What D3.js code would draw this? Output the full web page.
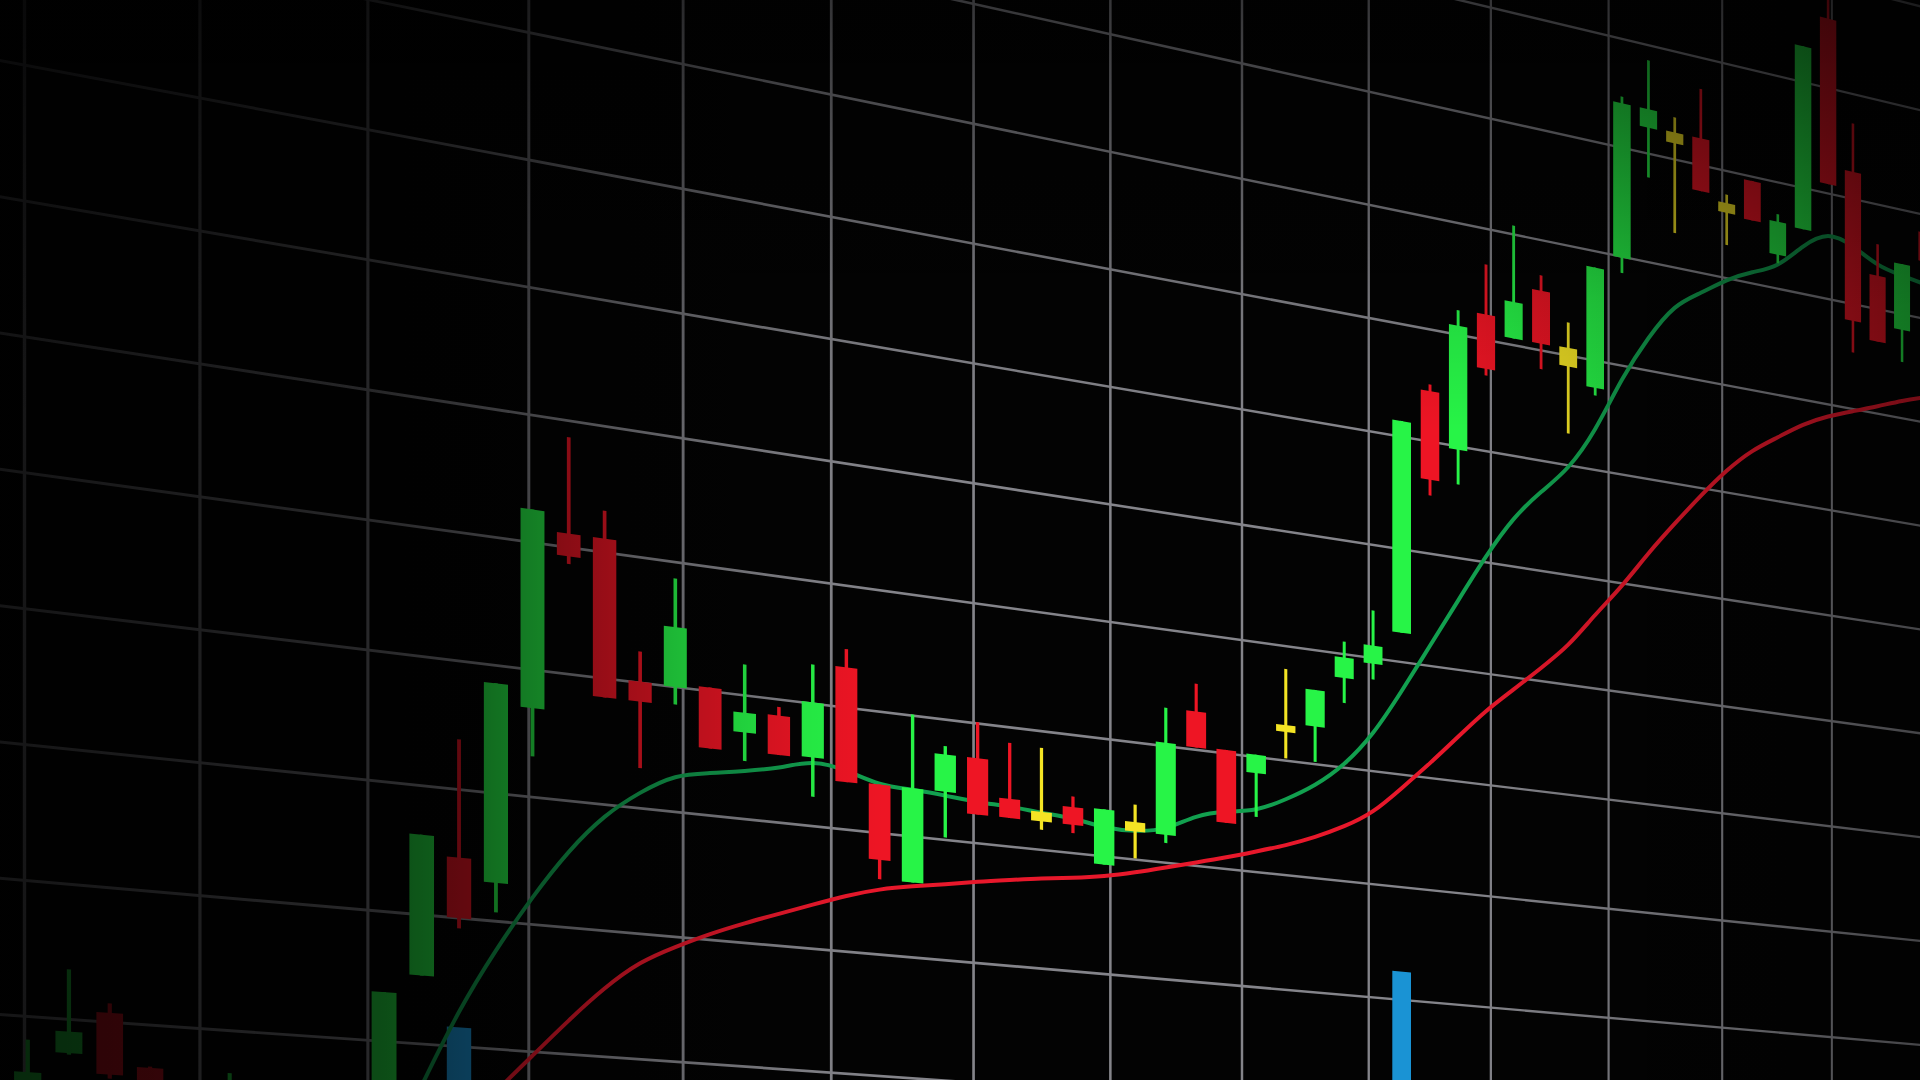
<!DOCTYPE html>
<html>
<head>
<meta charset="utf-8">
<script src="https://cdn.jsdelivr.net/npm/d3@7"></script>
<style>
html, body { margin: 0; padding: 0; background: #020202; overflow: hidden; }
svg { display: block; }
</style>
</head>
<body>
<svg id="chart"></svg>
<script>
'use strict';

// one entry per session, index 0..60 (null = candle below the picture)
const OPEN = [93.9, 97.5, 100.7, 96.8, null, 93.5, null, null, null, 94.0,
    105.3, 114.7, 113.0, 127.0, 141.1, 141.1, 130.1, 130.0, 130.3, 127.0,
    128.7, 125.6, 133.3, 124.0, 116.2, 124.0, 127.1, 124.0, 123.2, 123.9,
    119.3, 122.4, 122.4, 133.3, 130.3, 128.6, 132.5, 133.3, 137.9, 139.5,
    142.6, 164.5, 159.7, 172.3, 170.6, 175.4, 169.0, 167.5, 179.9, 192.4,
    192.5, 192.5, 187.0, 189.6, 183.2, 186.1, 206.6, 192.6, 183.2, 178.5, 188.3];
const HIGH = [98.3, 103.7, 101.4, 96.9, null, 96.8, null, null, null, 103.8,
    116.2, 123.9, 128.6, 142.6, 148.7, 143.3, 132.5, 138.7, 130.3, 132.5,
    129.4, 133.2, 134.8, 124.0, 130.1, 127.8, 130.1, 128.7, 128.6, 124.8,
    124.0, 124.7, 133.3, 135.7, 130.3, 130.2, 138.0, 136.5, 141.1, 144.2,
    161.4, 165.1, 172.2, 176.8, 180.8, 176.8, 173.0, 178.5, 194.7, 198.6,
    193.9, 197.1, 187.8, 189.6, 187.0, 203.4, 210.0, 197.2, 186.2, 184.8, 188.3];
const LOW = [93.5, 97.4, 95.8, 94.0, null, 93.0, null, null, null, 93.5,
    105.3, 109.2, 110.7, 123.2, 138.7, 128.5, 123.2, 128.6, 125.4, 124.7,
    125.5, 122.4, 123.9, 116.2, 116.2, 120.2, 122.4, 122.4, 121.7, 121.7,
    119.3, 120.1, 121.7, 130.2, 124.0, 124.8, 130.2, 130.2, 135.7, 138.1,
    142.6, 155.2, 156.6, 166.8, 170.6, 168.3, 162.9, 166.8, 178.5, 187.8,
    183.2, 187.6, 183.1, 185.9, 182.4, 186.1, 190.9, 175.4, 176.9, 175.4, 185.5];
const CLOSE = [95.9, 99.1, 96.1, 94.4, null, 95.5, null, null, null, 103.8,
    116.2, 110.0, 128.6, 142.6, 139.3, 128.5, 128.5, 134.8, 125.4, 128.6,
    125.5, 130.1, 123.9, 117.8, 124.0, 127.1, 122.4, 122.4, 122.4, 122.4,
    124.0, 123.2, 130.3, 130.2, 124.0, 130.2, 133.1, 136.5, 139.7, 141.1,
    161.4, 156.6, 170.8, 167.4, 173.9, 170.6, 170.7, 178.5, 194.1, 194.1,
    191.5, 187.6, 186.1, 185.9, 186.3, 203.4, 190.9, 178.4, 176.9, 184.8, 185.5];

// sessions drawn as yellow (indecision) candles
const DOJI = [28, 31, 36, 46, 50, 52];

// moving averages, fast one from session 10, slow one from session 12
const MA_FAST_START = 10;
const MA_FAST = [96.8, 102.9, 107.8, 112.2, 116.1, 119.2, 121.3, 123.0, 123.4, 123.9,
    124.4, 125.4, 124.9, 123.9, 123.9, 123.7, 123.4, 123.4, 123.1, 123.0,
    122.4, 122.4, 122.8, 124.4, 125.0, 125.3, 126.6, 128.1, 130.2, 133.2,
    137.4, 141.8, 146.2, 150.6, 154.5, 157.2, 159.6, 163.5, 168.9, 173.1,
    176.6, 178.1, 179.9, 181.1, 182.0, 184.6, 186.4, 185.6, 184.1, 183.7, 183.3];
const MA_SLOW_START = 12;
const MA_SLOW = [96.7, 99.7, 102.7, 105.5, 107.8, 109.2, 110.5, 111.6, 112.6, 113.6,
    114.6, 115.4, 115.9, 116.3, 116.8, 117.2, 117.6, 117.9, 118.3, 118.9,
    119.6, 120.3, 121.0, 121.8, 122.6, 123.6, 124.8, 126.3, 128.8, 131.3,
    134.0, 136.7, 138.9, 141.2, 143.5, 146.8, 149.7, 153.2, 156.3, 159.3,
    162.1, 164.4, 166.0, 167.7, 168.9, 169.8, 170.7, 171.7, 172.5];

// only two volume bars reach into the picture
const VOLUME_SESSION = [11, 40];
const VOLUME = [54, 98];

const PRICE_LINES = d3.range(90, 211, 10);
const TIME_LINES = d3.range(0, 14);

const W = 1920;
const H = 1080;

const svg = d3.select('#chart').attr('width', W).attr('height', H);

// chart plane units: u = grid columns (time), v = grid rows (price)
const x = d3.scaleLinear().domain([0, 60]).range([0.018, 0.018 + 60 * 0.2312]);
const y = d3.scaleLinear().domain([100, 110]).range([0, 1]);
const vol = d3.scaleLinear().domain([0, 100]).range([88, 113]);

// the plane is turned away from the camera towards the right
const K = 0.02231;
function project(u, v) {
    var w = 1 + K * u;
    return [24.5 + 179.35 * u / w, (1016.3 + 35.2 * u - 135.9 * v) / w];
}

function quad(u0, u1, v0, v1) {
    return [project(u0, v0), project(u1, v0), project(u1, v1), project(u0, v1)]
        .map(function (p) { return p[0].toFixed(2) + ',' + p[1].toFixed(2); })
        .join(' ');
}

const defs = svg.append('defs');

function shade(id, x1, y1, x2, y2, stops) {
    var g = defs.append('linearGradient')
        .attr('id', id)
        .attr('gradientUnits', 'userSpaceOnUse')
        .attr('x1', x1).attr('y1', y1).attr('x2', x2).attr('y2', y2);
    stops.forEach(function (s) {
        g.append('stop')
            .attr('offset', s[0])
            .attr('stop-color', '#000')
            .attr('stop-opacity', s[1]);
    });
}

shade('fadeX', 0, 0, W, 0, [
    [0, 0.84], [0.1, 0.78], [0.2, 0.69], [0.25, 0.57], [0.3, 0.41],
    [0.36, 0.22], [0.42, 0.06], [0.46, 0], [0.76, 0], [0.86, 0.17], [1, 0.48]
]);
shade('fadeY', 0, 0, 0, H, [
    [0, 0.6], [0.14, 0.36], [0.28, 0.12], [0.4, 0], [1, 0]
]);

svg.append('rect')
    .attr('width', W)
    .attr('height', H)
    .attr('fill', '#030303');

// grid
const grid = svg.append('g').attr('class', 'grid').attr('fill', '#84848a');

grid.selectAll('.col')
    .data(TIME_LINES)
    .enter()
    .append('polygon')
    .attr('class', 'col')
    .attr('points', function (u) {
        return quad(u - 0.0095, u + 0.0095, y(80), y(220));
    });

grid.selectAll('.row')
    .data(PRICE_LINES)
    .enter()
    .append('polygon')
    .attr('class', 'row')
    .attr('points', function (p) {
        return quad(-1, 15, y(p) - 0.011, y(p) + 0.011);
    });

// volume
svg.append('g')
    .selectAll('.volume')
    .data(VOLUME)
    .enter()
    .append('polygon')
    .attr('class', 'volume')
    .attr('fill', '#1a93d4')
    .attr('points', function (d, k) {
        var u = x(VOLUME_SESSION[k]);
        return quad(u - 0.076, u + 0.076, y(vol(0)), y(vol(d)));
    });

// moving averages
const line = d3.line()
    .x(function (d) { return d[0]; })
    .y(function (d) { return d[1]; })
    .curve(d3.curveBasis);

function maPoints(values, start) {
    return values.map(function (v, k) {
        return project(x(start + k), y(v));
    });
}

svg.append('path')
    .attr('d', line(maPoints(MA_SLOW, MA_SLOW_START)))
    .attr('fill', 'none')
    .attr('stroke', '#e8182b')
    .attr('stroke-width', 4);

svg.append('path')
    .attr('d', line(maPoints(MA_FAST, MA_FAST_START)))
    .attr('fill', 'none')
    .attr('stroke', '#12a04f')
    .attr('stroke-width', 4);

// candles
const candles = d3.range(OPEN.length)
    .filter(function (i) { return OPEN[i] !== null; })
    .map(function (i) {
        return { i: i, o: OPEN[i], h: HIGH[i], l: LOW[i], c: CLOSE[i] };
    });

function candleColour(d) {
    if (DOJI.indexOf(d.i) >= 0) return '#f4e424';
    return d.c >= d.o ? '#27f447' : '#ee1524';
}

const candle = svg.append('g')
    .selectAll('.candle')
    .data(candles)
    .enter()
    .append('g')
    .attr('class', 'candle')
    .attr('fill', candleColour);

candle.append('polygon')
    .attr('points', function (d) {
        var u = x(d.i);
        return quad(u - 0.012, u + 0.012, y(d.l), y(d.h));
    });

candle.append('polygon')
    .attr('points', function (d) {
        var u = x(d.i);
        return quad(u - 0.076, u + 0.076, y(Math.min(d.o, d.c)), y(Math.max(d.o, d.c)));
    });

// lighting: the picture fades to black towards the left and the top
svg.append('rect')
    .attr('width', W)
    .attr('height', H)
    .attr('fill', 'url(#fadeX)');

svg.append('rect')
    .attr('width', W)
    .attr('height', H)
    .attr('fill', 'url(#fadeY)');
</script>
</body>
</html>
